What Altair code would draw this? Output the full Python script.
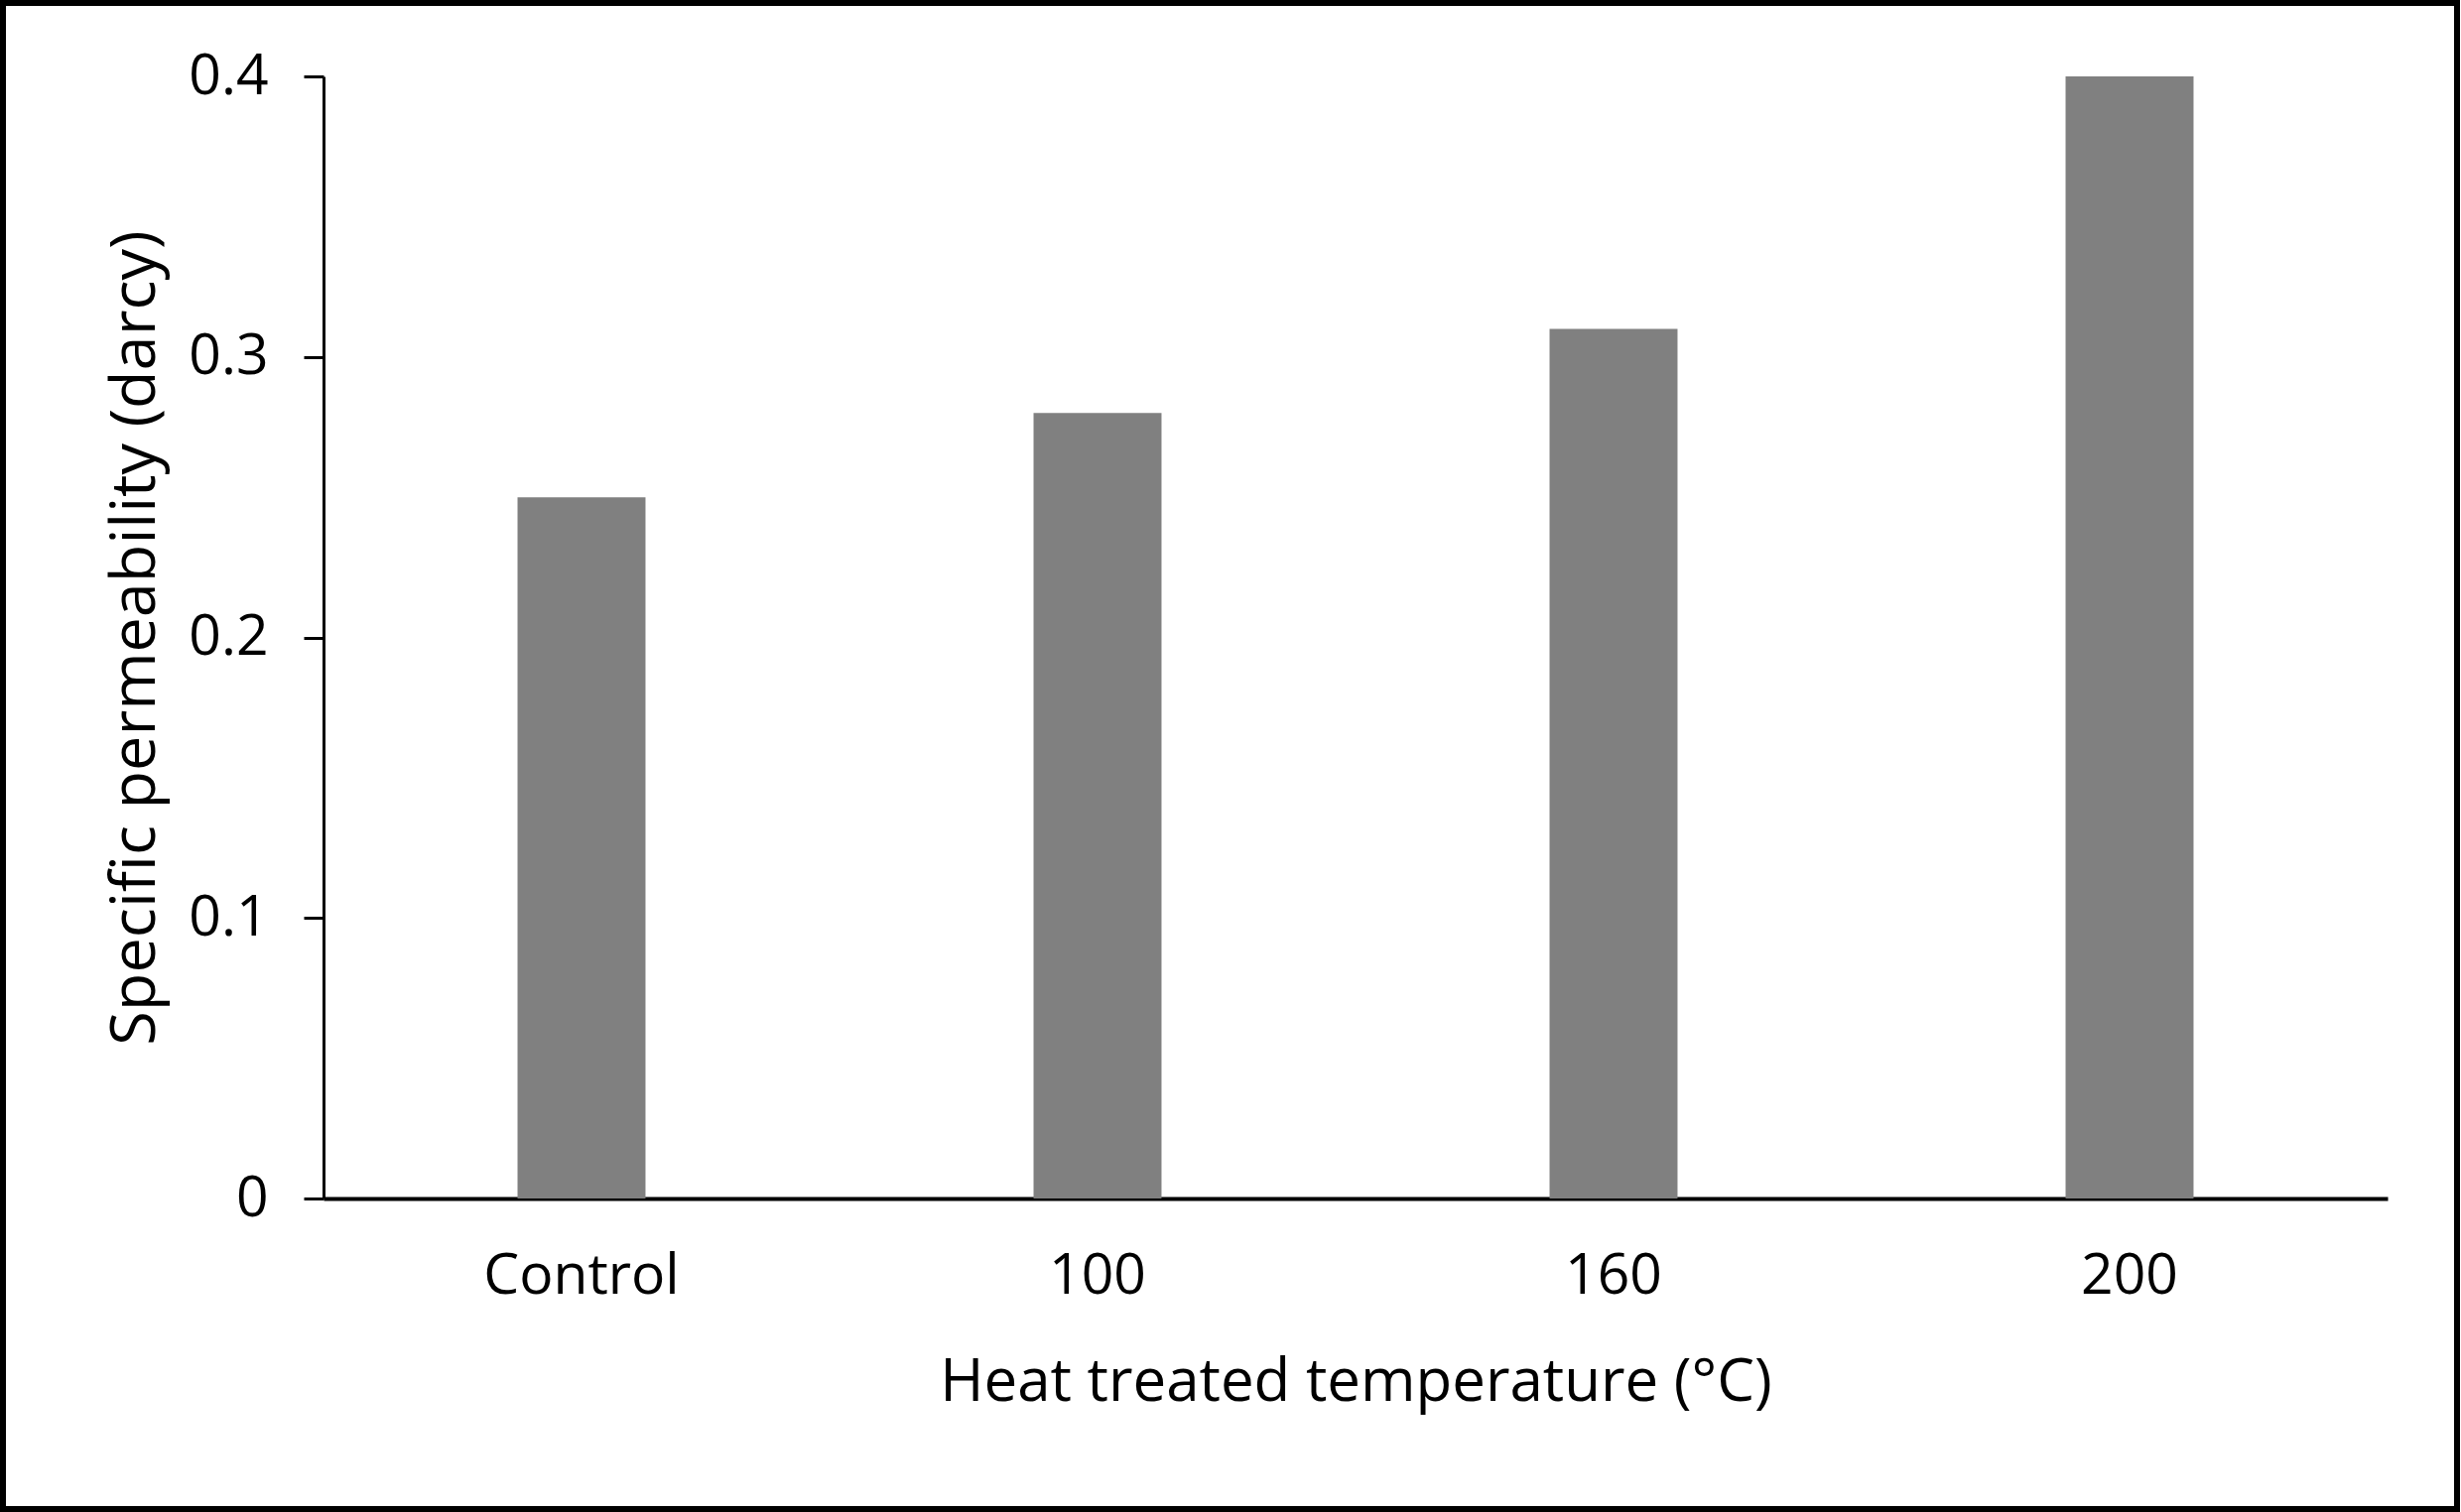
import altair as alt
import pandas as pd

categories = ["Control", "100", "160", "200"]
values = [0.25, 0.28, 0.31, 0.40]
y_ticks = [0, 0.1, 0.2, 0.3, 0.4]

df = pd.DataFrame({"cat": categories, "val": values})

W, H = 2080, 1131
FONT = "Open Sans"

bars = alt.Chart(df).mark_bar(color="#808080").encode(
    x=alt.X("cat:N", sort=categories,
            scale=alt.Scale(paddingInner=0.752, paddingOuter=0.376),
            axis=alt.Axis(title="Heat treated temperature (°C)", labelAngle=0,
                          ticks=False, labelPadding=50, titlePadding=50,
                          labelLimit=1000, labelOverlap=False,
                          domainWidth=4, domainColor="black", titleFontSize=60)),
    y=alt.Y("val:Q", scale=alt.Scale(domain=[0, 0.4], nice=False),
            axis=alt.Axis(title="Specific permeability (darcy)", values=y_ticks,
                          format="~g", grid=False, tickSize=20, tickWidth=3,
                          tickColor="black", domainWidth=3, domainColor="black",
                          labelPadding=36, titlePadding=21, titleFontSize=63)),
)

frame = alt.Chart(df).mark_rect(filled=False, stroke="black", strokeWidth=6).encode(
    x=alt.value(-323), x2=alt.value(W + 70),
    y=alt.value(-74), y2=alt.value(H + 313),
)

chart = alt.layer(bars, frame).properties(
    width=W, height=H,
    autosize=alt.AutoSizeParams(type="none"),
    padding={"left": 326, "top": 77, "right": 74, "bottom": 316},
    background="white",
).configure_view(stroke=None).configure_axis(
    labelFont=FONT, titleFont=FONT, labelFontSize=57,
    labelColor="black", titleColor="black", titleFontWeight="normal",
)

chart.save("out.html", embed_options={"renderer": "svg", "actions": False})
